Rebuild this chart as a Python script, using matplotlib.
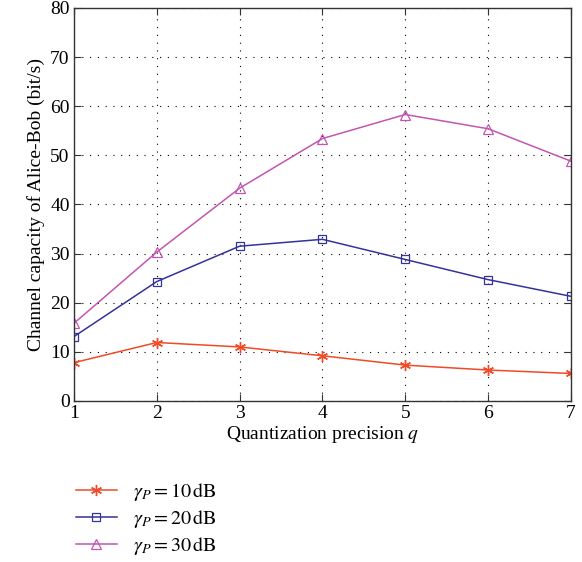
import numpy as np
import matplotlib
matplotlib.use("Agg")
import matplotlib.pyplot as plt

plt.rcParams["font.family"] = ["Liberation Serif", "DejaVu Serif"]
plt.rcParams["mathtext.fontset"] = "stix"

# ---------------------------- data ----------------------------#
q = [1, 2, 3, 4, 5, 6, 7]
cap_10dB = [7.8, 11.9, 11.0, 9.2, 7.3, 6.3, 5.6]
cap_20dB = [13.1, 24.3, 31.5, 32.9, 28.8, 24.7, 21.3]
cap_30dB = [15.8, 30.3, 43.3, 53.4, 58.3, 55.4, 48.8]
labels = [r"$\gamma_P = 10\,\mathrm{dB}$", r"$\gamma_P = 20\,\mathrm{dB}$", r"$\gamma_P = 30\,\mathrm{dB}$"]

# ---------------------------- plot ----------------------------#
f = plt.figure(figsize=(5.82, 5.62), dpi=100)
ax = f.add_axes([0.127, 0.2865, 0.854, 0.6995])

ax.plot(q, cap_10dB, color="#f04a28", marker=(6, 2, 0), markersize=8, markeredgewidth=1.0, linewidth=1.1, label=labels[0])
ax.plot(q, cap_20dB, color="#33339a", marker="s", markersize=6, markerfacecolor="none", markeredgewidth=0.9, linewidth=1.1, label=labels[1])
ax.plot(q, cap_30dB, color="#c455b0", marker="^", markersize=7.5, markerfacecolor="none", markeredgewidth=0.9, linewidth=1.1, label=labels[2])

ax.set_xlim(1, 7)
ax.set_ylim(0, 80)
ax.set_xticks(q)
ax.set_yticks(range(0, 81, 10))
ax.grid(True, color="black", linestyle=(0, (1, 6)), linewidth=0.8)
ax.tick_params(direction="in", top=True, right=True, labelsize=14, length=5, color="#333333", pad=3)
for s in ax.spines.values():
    s.set_color("#333333")
    s.set_linewidth(1.0)

ax.set_xlabel(r"Quantization precision $q$", fontsize=14, labelpad=1)
ax.set_ylabel("Channel capacity of Alice-Bob (bit/s)", fontsize=14, labelpad=4)

f.legend(loc="upper left", bbox_to_anchor=(0.1, 0.177), frameon=False, fontsize=14.5,
         handlelength=2.0, labelspacing=0.25, handletextpad=0.8)

plt.savefig("out.png", dpi=100)
